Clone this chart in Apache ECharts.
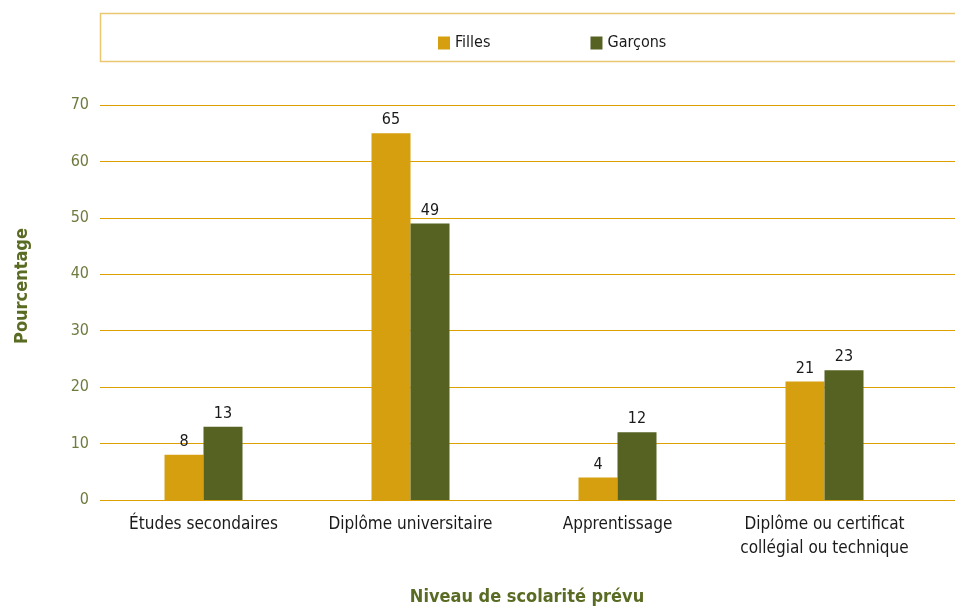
<!DOCTYPE html>
<html>
<head>
<meta charset="utf-8">
<script src="https://cdn.jsdelivr.net/npm/echarts@6/dist/echarts.min.js"></script>
<style>
  html, body { margin: 0; padding: 0; background: #fff; }
  #chart { width: 955px; height: 606px; }
</style>
</head>
<body>
<div id="chart"></div>
<script>
// Niveau de scolarité prévu, par sexe (%)
const categories = [
  'Études secondaires',
  'Diplôme universitaire',
  'Apprentissage',
  'Diplôme ou certificat\ncollégial ou technique'
];
const filles = [8, 65, 4, 21];
const garcons = [13, 49, 12, 23];
const yTicks = [0, 10, 20, 30, 40, 50, 60, 70];

const FONT = '"Liberation Sans Narrow", "DejaVu Sans Condensed", sans-serif';
const GOLD = '#D59F10';
const OLIVE = '#556222';
const GRID_LINE = '#DCA000';
const TITLE_COLOR = '#5A6B23';

const chart = echarts.init(document.getElementById('chart'));

const valueLabel = {
  show: true,
  position: 'top',
  distance: 5,
  color: '#1a1a1a',
  fontFamily: FONT,
  fontSize: 16
};

chart.setOption({
  animation: false,
  textStyle: { fontFamily: FONT },
  graphic: [
    {
      type: 'rect',
      shape: { x: 100.5, y: 13.5, width: 870, height: 48 },
      style: { fill: 'none', stroke: '#EBC870', lineWidth: 1.5 },
      z: 0
    },
    {
      type: 'text',
      x: 22, y: 286, rotation: Math.PI / 2,
      style: {
        text: 'Pourcentage', fill: TITLE_COLOR, font: 'bold 18px ' + FONT,
        align: 'center', verticalAlign: 'middle'
      }
    },
    {
      type: 'text',
      x: 527, y: 597,
      style: {
        text: 'Niveau de scolarité prévu', fill: TITLE_COLOR, font: 'bold 18px ' + FONT,
        align: 'center', verticalAlign: 'middle'
      }
    }
  ],
  legend: {
    left: 433,
    top: 30,
    itemWidth: 12,
    itemHeight: 13,
    itemGap: 100,
    icon: 'rect',
    textStyle: { fontFamily: FONT, fontSize: 16, color: '#1a1a1a' },
    data: ['Filles', 'Garçons']
  },
  grid: [
    // full-width grid carrying the horizontal rules
    { left: 100, right: 0, top: 105, bottom: 106, outerBoundsMode: 'none', containLabel: false },
    // bar grid
    { left: 100, width: 828, top: 105, bottom: 106, outerBoundsMode: 'none', containLabel: false }
  ],
  xAxis: [
    {
      gridIndex: 0, type: 'category', data: [''],
      axisLine: { show: false }, axisTick: { show: false }, axisLabel: { show: false }
    },
    {
      gridIndex: 1, type: 'category', data: categories,
      axisLine: { show: false }, axisTick: { show: false },
      axisLabel: {
        color: '#1a1a1a', fontFamily: FONT, fontSize: 17,
        margin: 13, lineHeight: 24, interval: 0
      }
    }
  ],
  yAxis: [
    {
      gridIndex: 0, type: 'value', min: yTicks[0], max: yTicks[yTicks.length - 1], interval: 10,
      axisLine: { show: false }, axisTick: { show: false },
      splitLine: { lineStyle: { color: GRID_LINE, width: 1.2 } },
      axisLabel: { color: '#6E7B3E', fontFamily: FONT, fontSize: 16, margin: 11 }
    },
    {
      gridIndex: 1, type: 'value', min: yTicks[0], max: yTicks[yTicks.length - 1], interval: 10,
      axisLine: { show: false }, axisTick: { show: false },
      splitLine: { show: false }, axisLabel: { show: false }
    }
  ],
  series: [
    {
      name: 'Filles', type: 'bar', xAxisIndex: 1, yAxisIndex: 1,
      data: filles, barWidth: 39, barGap: '0%',
      itemStyle: { color: GOLD }, label: valueLabel, z: 3
    },
    {
      name: 'Garçons', type: 'bar', xAxisIndex: 1, yAxisIndex: 1,
      data: garcons, barWidth: 39, barGap: '0%',
      itemStyle: { color: OLIVE }, label: valueLabel, z: 3
    }
  ]
});
</script>
</body>
</html>
